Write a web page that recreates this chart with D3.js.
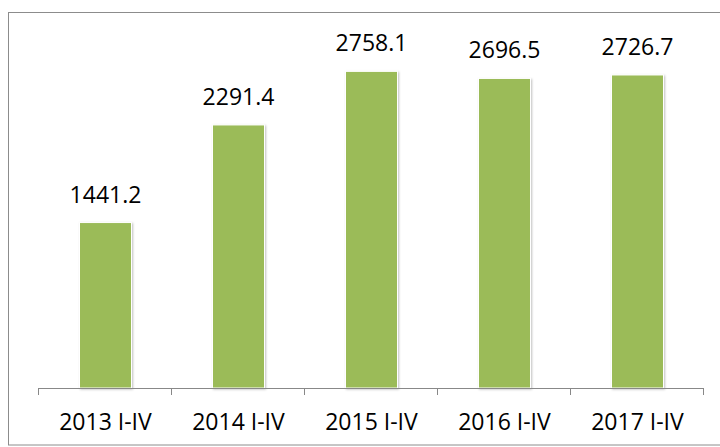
<!DOCTYPE html>
<html>
<head>
<meta charset="utf-8">
<script src="https://cdn.jsdelivr.net/npm/d3@7"></script>
<style>
html,body{margin:0;padding:0;background:#fff;}
svg{display:block;}
text{font-family:"Open Sans",sans-serif;fill:#000;}
</style>
</head>
<body>
<svg id="chart" width="720" height="447"></svg>
<script>
const categories = ["2013 I-IV", "2014 I-IV", "2015 I-IV", "2016 I-IV", "2017 I-IV"];
const values = [1441.2, 2291.4, 2758.1, 2696.5, 2726.7];
const valueLabels = ["1441.2", "2291.4", "2758.1", "2696.5", "2726.7"];

const svg = d3.select("#chart");
const W = 720, H = 447;

// outer border
svg.append("rect")
  .attr("x", 8.5).attr("y", 12.5)
  .attr("width", 720).attr("height", 432.5)
  .attr("fill", "none").attr("stroke", "#8c8c8c").attr("stroke-width", 1);

const defs = svg.append("defs");
const f = defs.append("filter").attr("id", "sh").attr("x", "-20%").attr("y", "-20%").attr("width", "140%").attr("height", "140%");
f.append("feDropShadow").attr("dx", 1).attr("dy", 1).attr("stdDeviation", 1.2)
  .attr("flood-color", "#000").attr("flood-opacity", 0.25);

const x = d3.scaleBand().domain(categories).range([38, 703]).paddingInner(0).paddingOuter(0);
const y = d3.scaleLinear().domain([0, 3000]).range([388, 43.6]);
const barW = 52;

const g = svg.append("g");

g.selectAll("rect.bar").data(values).enter().append("rect")
  .attr("class", "bar")
  .attr("x", (d, i) => x(categories[i]) + x.bandwidth() / 2 - barW / 2 + 1)
  .attr("y", d => y(d))
  .attr("width", barW)
  .attr("height", d => y(0) - y(d))
  .attr("fill", "#9bbb59")
  .attr("stroke", "#ffffff").attr("stroke-width", 1)
  .attr("filter", "url(#sh)");

g.selectAll("text.val").data(values).enter().append("text")
  .attr("class", "val")
  .attr("x", (d, i) => x(categories[i]) + x.bandwidth() / 2 + 1)
  .attr("y", d => y(d) - 20)
  .attr("text-anchor", "middle")
  .attr("font-size", 23)
  .text((d, i) => valueLabels[i]);

// axis
const axis = d3.axisBottom(x).tickSize(0).tickPadding(0);
const ax = svg.append("g").attr("transform", `translate(0,${y(0)})`).call(axis);
ax.select(".domain").remove();
ax.selectAll("text").remove();
ax.append("line").attr("x1", 38).attr("x2", 703).attr("y1", 0.5).attr("y2", 0.5)
  .attr("stroke", "#888").attr("stroke-width", 1);
const bounds = categories.map(c => x(c)).concat([x(categories[categories.length - 1]) + x.bandwidth()]);
ax.selectAll("line.tk").data(bounds).enter().append("line")
  .attr("class", "tk")
  .attr("x1", d => Math.round(d) + 0.5).attr("x2", d => Math.round(d) + 0.5)
  .attr("y1", 0).attr("y2", 7)
  .attr("stroke", "#888").attr("stroke-width", 1);

svg.selectAll("text.cat").data(categories).enter().append("text")
  .attr("class", "cat")
  .attr("x", d => x(d) + x.bandwidth() / 2 + 1)
  .attr("y", 430)
  .attr("text-anchor", "middle")
  .attr("font-size", 23)
  .text(d => d);
</script>
</body>
</html>
